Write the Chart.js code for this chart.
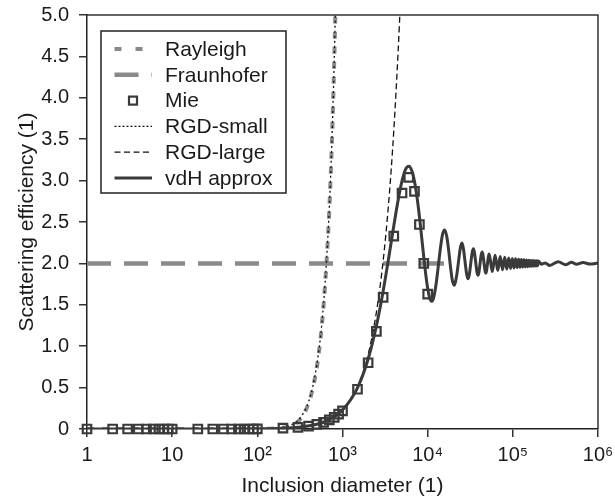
<!DOCTYPE html>
<html>
<head>
<meta charset="utf-8">
<script src="https://cdn.jsdelivr.net/npm/chart.js@4.4.1/dist/chart.umd.min.js"></script>
<style>
  html, body { margin: 0; padding: 0; background: #fff; }
</style>
</head>
<body>
<canvas id="chart" width="615" height="497"></canvas>
<script>
// --- Axis ticks ---
const xTicks = [1, 10, 100, 1000, 10000, 100000, 1000000];
const xTickLabels = ['1', '10', '10²', '10³', '10⁴', '10⁵', '10⁶'];
const yTickLabels = ['0', '0.5', '1.0', '1.5', '2.0', '2.5', '3.0', '3.5', '4.0', '4.5', '5.0'];

const seriesNames = ['Rayleigh', 'Fraunhofer', 'Mie', 'RGD-small', 'RGD-large', 'vdH approx'];

// --- Series ---
const rayleighD = [1, 100, 200, 250, 300, 350, 400, 450, 500, 550, 600, 650, 700, 750, 800, 830];
const rayleighQ = [0, 0.001, 0.015, 0.04, 0.09, 0.18, 0.31, 0.5, 0.75, 1.08, 1.5, 2.02, 2.65, 3.45, 4.45, 5.15];

const fraunD = [1, 16000];
const fraunQ = [2, 2];

const mieD = [1, 2, 3, 4, 5, 6, 7, 8, 9, 10, 20, 30, 40, 50, 60, 70, 80, 90, 100,
  200, 300, 400, 500, 600, 700, 800, 900, 1000, 1500, 2000, 2500, 3000,
  4000, 5000, 6000, 7000, 8000, 9000, 10000];
const mieQ = [0, 0, 0, 0, 0, 0, 0, 0, 0, 0, 0, 0, 0, 0, 0, 0, 0, 0, 0.002,
  0.01, 0.02, 0.035, 0.055, 0.08, 0.11, 0.14, 0.18, 0.22, 0.48, 0.80, 1.18, 1.59,
  2.33, 2.85, 3.04, 2.87, 2.47, 2.00, 1.63];

const rgdSmallD = [1, 100, 200, 250, 300, 350, 400, 450, 500, 550, 600, 650, 700, 750, 800, 830];
const rgdSmallQ = [0, 0.002, 0.02, 0.05, 0.1, 0.2, 0.33, 0.52, 0.78, 1.1, 1.52, 2.04, 2.67, 3.46, 4.46, 5.15];

const rgdLargeD = [1, 100, 300, 500, 700, 1000, 1500, 2000, 2500, 3000, 3500, 4000, 4500, 4800];
const rgdLargeQ = [0, 0.002, 0.02, 0.056, 0.11, 0.225, 0.51, 0.9, 1.41, 2.03, 2.76, 3.6, 4.56, 5.18];

const vdhD = [1, 10, 50, 100, 200, 300, 500, 700, 1000, 1500, 2000, 2500, 3000, 3500,
  4000, 4500, 5000, 5500, 6000, 6500, 7000, 7500, 8000, 8500, 9000, 9500, 10000,
  10500, 11100, 11700, 12500, 13300, 14200, 15000, 15800, 16700, 17600, 18500,
  19500, 20600, 21700, 25230, 29810, 34400, 38980, 43580, 48170, 52750, 57330,
  61920, 66500, 71090, 75690, 80270, 84860, 89440, 94020, 98610, 103200, 107800,
  112400, 117000, 121500, 126100, 130700, 135300, 139900, 144500, 149100, 153700,
  158200, 162800, 167400, 172000, 176600, 181200, 185800, 190400, 194900, 199500,
  215000, 240000, 271700, 340300, 419000, 488400, 558700, 668000, 801000, 1000000];
const vdhQ = [0, 0, 0.0006, 0.0023, 0.0094, 0.021, 0.058, 0.114, 0.229, 0.497, 0.845, 1.244, 1.664, 2.077,
  2.452, 2.764, 2.996, 3.135, 3.173, 3.122, 2.991, 2.798, 2.567, 2.318, 2.077, 1.866, 1.700,
  1.591, 1.542, 1.579, 1.735, 1.958, 2.205, 2.356, 2.404, 2.333, 2.167, 1.967,
  1.794, 1.736, 1.829, 2.245, 1.814, 2.177, 1.856, 2.139, 1.882, 2.114, 1.901,
  2.097, 1.914, 2.084, 1.924, 2.074, 1.932, 2.066, 1.939, 2.060, 1.944, 2.055,
  1.949, 2.051, 1.953, 2.047, 1.956, 2.044, 1.959, 2.041, 1.961, 2.038,
  1.964, 2.036, 1.966, 2.034, 1.967, 2.032, 1.969, 2.031, 1.970, 2.029,
  1.99, 2.005, 1.975, 2.02, 1.985, 2.015, 1.99, 2.012, 1.992, 2.005];

const pts = (xs, ys) => xs.map((x, i) => ({ x: x, y: ys[i] }));

const GRAY = '#8a8a8a';
const DARK = '#3a3a3a';
const TEXT = '#1a1a1a';
const FONT = '"Liberation Sans", Arial, Helvetica, sans-serif';

// Top and right frame lines
const framePlugin = {
    id: 'frame',
    beforeDatasetsDraw(chart) {
        const a = chart.chartArea;
        const ctx = chart.ctx;
        ctx.save();
        ctx.strokeStyle = '#333';
        ctx.lineWidth = 1.5;
        ctx.beginPath();
        ctx.moveTo(a.left, a.top);
        ctx.lineTo(a.right, a.top);
        ctx.lineTo(a.right, a.bottom);
        ctx.stroke();
        ctx.restore();
    }
};

// Boxed legend inside the plot
const legendPlugin = {
    id: 'boxLegend',
    afterDatasetsDraw(chart) {
        const ctx = chart.ctx;
        const box = { x: 101, y: 31, w: 185, h: 162 };
        ctx.save();
        ctx.fillStyle = '#fff';
        ctx.fillRect(box.x, box.y, box.w, box.h);
        ctx.strokeStyle = '#222';
        ctx.lineWidth = 1.5;
        ctx.strokeRect(box.x, box.y, box.w, box.h);

        const styles = [
            { color: GRAY, width: 4, dash: [7, 14] },
            { color: GRAY, width: 4.5, dash: [24, 13] },
            { marker: true },
            { color: '#111', width: 1.3, dash: [2, 2] },
            { color: '#111', width: 1.3, dash: [6, 3.5] },
            { color: DARK, width: 3, dash: [] }
        ];
        const x0 = 114.5, x1 = 152, tx = 165;
        seriesNames.forEach((name, i) => {
            const y = 49 + 25.8 * i;
            const s = styles[i];
            if (s.marker) {
                ctx.setLineDash([]);
                ctx.strokeStyle = DARK;
                ctx.lineWidth = 2.2;
                ctx.strokeRect(133 - 4, y - 4, 8, 8);
            } else {
                ctx.setLineDash(s.dash);
                ctx.strokeStyle = s.color;
                ctx.lineWidth = s.width;
                ctx.beginPath();
                ctx.moveTo(x0, y);
                ctx.lineTo(x1, y);
                ctx.stroke();
            }
            ctx.setLineDash([]);
            ctx.fillStyle = TEXT;
            ctx.font = '21px ' + FONT;
            ctx.textBaseline = 'middle';
            ctx.textAlign = 'left';
            ctx.fillText(name, tx, y + 1);
        });
        ctx.restore();
    }
};

const ctx = document.getElementById('chart').getContext('2d');
new Chart(ctx, {
    type: 'line',
    data: {
        datasets: [
            { label: seriesNames[2], data: pts(mieD, mieQ), showLine: false, order: 0, clip: false,
              pointStyle: 'rect', pointRadius: 6, pointBorderWidth: 2.2,
              pointBorderColor: DARK, pointBackgroundColor: 'rgba(0,0,0,0)' },
            { label: seriesNames[5], data: pts(vdhD, vdhQ), order: 1, borderColor: DARK,
              borderWidth: 3, pointRadius: 0, cubicInterpolationMode: 'monotone' },
            { label: seriesNames[3], data: pts(rgdSmallD, rgdSmallQ), order: 2, borderColor: '#111',
              borderWidth: 1.3, borderDash: [2, 3], pointRadius: 0, cubicInterpolationMode: 'monotone' },
            { label: seriesNames[4], data: pts(rgdLargeD, rgdLargeQ), order: 3, borderColor: '#111',
              borderWidth: 1.3, borderDash: [6, 3.5], pointRadius: 0, cubicInterpolationMode: 'monotone' },
            { label: seriesNames[0], data: pts(rayleighD, rayleighQ), order: 4, borderColor: GRAY,
              borderWidth: 4, borderDash: [7, 8], pointRadius: 0, cubicInterpolationMode: 'monotone' },
            { label: seriesNames[1], data: pts(fraunD, fraunQ), order: 5, borderColor: GRAY,
              borderWidth: 4.5, borderDash: [24, 13], pointRadius: 0 }
        ]
    },
    options: {
        responsive: false,
        animation: false,
        layout: { padding: { top: 15, right: 17, bottom: 0, left: 4 } },
        plugins: { legend: { display: false }, tooltip: { enabled: false } },
        scales: {
            x: {
                type: 'logarithmic',
                min: 1,
                max: 1000000,
                afterBuildTicks: s => { s.ticks = xTicks.map(v => ({ value: v })); },
                afterFit: s => { s.height = 68; s.paddingLeft = 0; s.paddingRight = 0; },
                ticks: {
                    autoSkip: false, maxRotation: 0, padding: 6, color: TEXT,
                    font: { family: FONT, size: 20 },
                    callback: (v, i) => xTickLabels[i]
                },
                grid: { drawOnChartArea: false, drawTicks: true, tickLength: 8, color: '#333', lineWidth: 1.5 },
                border: { display: true, color: '#222', width: 1.5 },
                title: { display: true, text: 'Inclusion diameter (1)', color: TEXT,
                         font: { family: FONT, size: 21, lineHeight: 1.0 }, padding: 0 }
            },
            y: {
                min: 0,
                max: 5,
                afterFit: s => { s.width = 83; s.paddingTop = 0; s.paddingBottom = 0; },
                ticks: {
                    stepSize: 0.5, padding: 10, color: TEXT,
                    font: { family: FONT, size: 20 },
                    callback: (v, i) => yTickLabels[i]
                },
                grid: { drawOnChartArea: false, drawTicks: true, tickLength: 8, color: '#333', lineWidth: 1.5 },
                border: { display: true, color: '#222', width: 1.5 },
                title: { display: true, text: 'Scattering efficiency (1)', color: TEXT,
                         font: { family: FONT, size: 21, lineHeight: 1.0 }, padding: { top: 13, bottom: 0 } }
            }
        }
    },
    plugins: [framePlugin, legendPlugin]
});
</script>
</body>
</html>
